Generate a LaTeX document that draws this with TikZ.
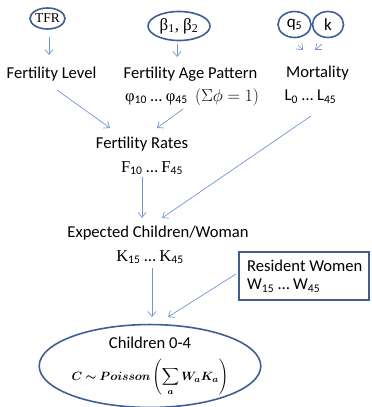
\documentclass[tikz,border=0pt]{standalone}
\usepackage{amsmath}
\usepackage{bm}
\usepackage{fontspec}
\setmainfont{Carlito}
\newfontfamily\serifg{Liberation Serif}
\usetikzlibrary{shapes.geometric,arrows.meta}
\definecolor{bord}{HTML}{3F5F93}
\definecolor{conn}{HTML}{7395CF}
\tikzset{
  oval/.style={ellipse,draw=bord,line width=1.6pt,inner sep=0pt},
  lbl/.style={inner sep=0pt,font=\fontsize{16.6}{18}\selectfont},
  conarrow/.style={draw=conn,line width=0.7pt,-{Straight Barb[length=5pt,width=8pt]}},
}
\begin{document}
\begin{tikzpicture}[x=1pt,y=-1pt]
\useasboundingbox (0,0) rectangle (372,407);
% top parameter ovals
\node[oval,minimum width=28pt,minimum height=21pt] (tfr) at (47.5,18.5) {\serifg\fontsize{13.5}{13.5}\selectfont TFR};
\node[oval,minimum width=62pt,minimum height=29pt] (beta) at (179,26) {\serifg\fontsize{17}{17}\selectfont β\textsubscript{1}, β\textsubscript{2}};
\node[oval,minimum width=33pt,minimum height=26pt] (q5) at (294.5,24.5) {\fontsize{17}{17}\selectfont q\textsubscript{5}};
\node[oval,minimum width=31pt,minimum height=26pt] (k) at (328,24.5) {\fontsize{17}{17}\selectfont k};
% text labels
\node[lbl] (fl) at (51.5,74) {Fertility Level};
\node[lbl] (fap) at (190.5,74) {Fertility Age Pattern};
\node[lbl] (phi) at (192,97) {{\serifg φ}\textsubscript{10} … {\serifg φ}\textsubscript{45}\ \ $(\Sigma\phi = 1)$};
\node[lbl] (mort) at (317.5,73) {Mortality};
\node[lbl] (lx) at (310.5,97) {L\textsubscript{0} … L\textsubscript{45}};
\node[lbl] (fr) at (142,144) {Fertility Rates};
\node[lbl] (fx) at (152,168) {{\serifg F}\textsubscript{10} … {\serifg F}\textsubscript{45}};
\node[lbl] (ecw) at (158,233) {Expected Children/Woman};
\node[lbl] (kx) at (150,257) {{\serifg K}\textsubscript{15} … {\serifg K}\textsubscript{45}};
\node[draw=bord,line width=1.2pt,minimum width=130pt,minimum height=48pt,inner sep=0pt] (rw) at (304,276) {};
\node[lbl,anchor=west,align=left] (rwt) at (247,276) {Resident Women\\W\textsubscript{15} … W\textsubscript{45}};
\node[oval,minimum width=214pt,minimum height=80pt,align=center] (ch) at (150,366)
  {\fontsize{16.6}{18}\selectfont Children 0-4\\[10pt]
   \fontsize{13}{13}\selectfont $\bm{C \sim Poisson}\left(\displaystyle\sum_{\bm{a}} \bm{W_a K_a}\right)$};
% connector end points
\coordinate (tfr-o) at (49,37);   \coordinate (fl-i) at (49,55);
\coordinate (beta-o) at (177,44); \coordinate (fap-i) at (177,57);
\coordinate (q5-o) at (298,45);   \coordinate (mort-i1) at (303,50);
\coordinate (k-o) at (322,44);    \coordinate (mort-i2) at (315,50);
\coordinate (fl-o) at (57,90);    \coordinate (fr-i1) at (110,128);
\coordinate (fap-o) at (183,109); \coordinate (fr-i2) at (157,128);
\coordinate (fr-o) at (142,177);  \coordinate (ecw-i1) at (142,218);
\coordinate (mort-o) at (311,116);\coordinate (ecw-i2) at (162,218);
\coordinate (ecw-o) at (152,268); \coordinate (ch-i1) at (152,317);
\coordinate (rw-o) at (236,274);  \coordinate (ch-i2) at (168,317);
% connectors
\draw[conarrow] (tfr-o) -- (fl-i);
\draw[conarrow] (beta-o) -- (fap-i);
\draw[conarrow] (q5-o) -- (mort-i1);
\draw[conarrow] (k-o) -- (mort-i2);
\draw[conarrow] (fl-o) -- (fr-i1);
\draw[conarrow] (fap-o) -- (fr-i2);
\draw[conarrow] (fr-o) -- (ecw-i1);
\draw[conarrow] (mort-o) -- (ecw-i2);
\draw[conarrow] (ecw-o) -- (ch-i1);
\draw[conarrow] (rw-o) -- (ch-i2);
\end{tikzpicture}
\end{document}
